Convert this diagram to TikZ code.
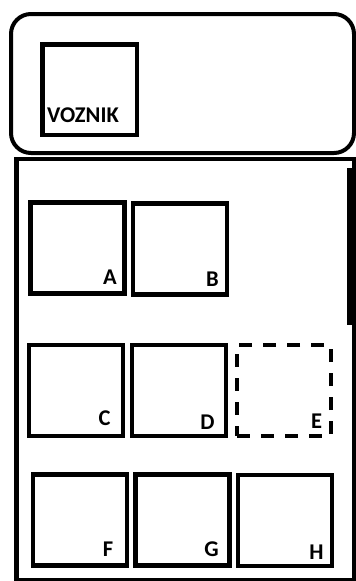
\documentclass[tikz,border=0pt]{standalone}
\usepackage{fontspec}
\setmainfont{Carlito}
\begin{document}
\begin{tikzpicture}[x=1pt,y=-1pt,
  frame/.style={draw=black,line width=4pt},
  slot/.style={draw=black,line width=4.5pt,inner sep=0pt,outer sep=0pt,minimum width=94pt,minimum height=91pt},
  emptyslot/.style={slot,dash pattern=on 13pt off 11pt},
  lab/.style={font=\bfseries\fontsize{22.5}{24}\selectfont,inner sep=0pt,text=black}]
\useasboundingbox (0,0) rectangle (356,581);
% top cabin
\draw[frame,rounded corners=20pt] (11,14) rectangle (354,153);
\node[slot,minimum width=94.5pt,minimum height=90.5pt] (voz) at (89.5,89.5) {};
\node[lab] (vozlab) at (83,115.5) {VOZNIK};
% bottom body
\draw[frame] (16.5,159) -- (353.5,159) -- (353.5,579.5) -- (16.5,579.5) -- cycle;
\draw[line width=5pt] (16.5,157) -- (16.5,581);
\fill[black] (347,168) rectangle (355.5,325);
% row 1
\node[slot] (A) at (77.5,248) {};
\node[slot] (B) at (180,249) {};
% row 2
\node[slot] (C) at (76,390.5) {};
\node[slot] (D) at (179,390.5) {};
\node[emptyslot] (E) at (284,390.5) {};
% row 3
\node[slot] (F) at (80,520) {};
\node[slot] (G) at (182.5,520) {};
\node[slot] (H) at (285,520.5) {};
% labels
\node[lab] (la) at (110,277.5) {A};
\node[lab] (lb) at (212.5,279) {B};
\node[lab] (lc) at (104.5,418.5) {C};
\node[lab] (ld) at (207.5,422) {D};
\node[lab] (le) at (316.5,421.5) {E};
\node[lab] (lf) at (108,549) {F};
\node[lab] (lg) at (211.5,549) {G};
\node[lab] (lh) at (316.5,552) {H};
\end{tikzpicture}
\end{document}
